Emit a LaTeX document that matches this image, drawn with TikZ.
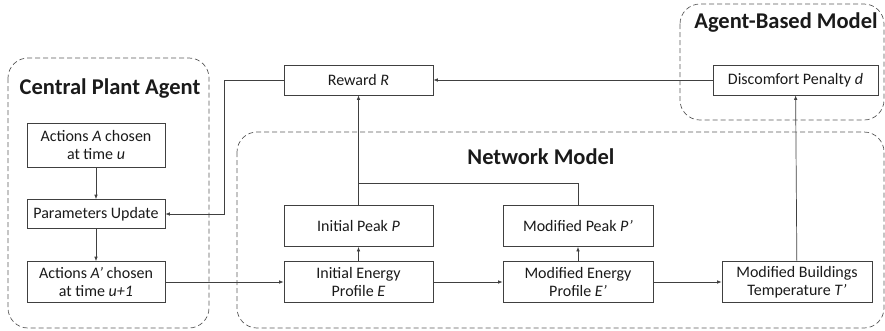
\documentclass[tikz,border=0pt]{standalone}
\usepackage{fontspec}
\setmainfont{Carlito}
\usetikzlibrary{arrows.meta}
\definecolor{boxline}{HTML}{404040}
\definecolor{dashline}{HTML}{5A5A5A}
\definecolor{txt}{HTML}{1A1A1A}
\tikzset{
  x=1pt, y=-1pt,
  blk/.style={draw=boxline, line width=0.7pt, rectangle, align=center, text=txt,
    font=\fontsize{16}{18.5}\selectfont, inner sep=0pt},
  grp/.style={draw=dashline, dashed, dash pattern=on 5pt off 3pt, line width=0.7pt, rounded corners=20pt},
  ttl/.style={font=\fontsize{22.5}{26}\selectfont\bfseries, text=txt, inner sep=0pt},
  conn/.style={draw=boxline, line width=0.7pt},
  arr/.style={conn, -{Latex[length=4.5pt,width=3.5pt]}}
}
\begin{document}
\begin{tikzpicture}
\useasboundingbox (0,0) rectangle (885,330);
% group boxes
\draw[grp] (8,58) rectangle (209,328);
\draw[grp] (237,132) rectangle (884,328);
\draw[grp] (680,4) rectangle (884,120);
% titles
\node[ttl] (tcp) at (110,89) {Central Plant Agent};
\node[ttl] (tnm) at (541,157) {Network Model};
\node[ttl] (tab) at (786,23) {Agent-Based Model};
% central plant
\node[blk, minimum width=138pt, minimum height=44pt] (aA) at (96,145) {Actions \textit{A} chosen\\at time \textit{u}};
\node[blk, minimum width=138pt, minimum height=29pt] (pu) at (96,214) {Parameters Update};
\node[blk, minimum width=138pt, minimum height=41pt] (aB) at (96,282) {Actions \textit{A’} chosen\\at time \textit{u+1}};
% reward
\node[blk, minimum width=149pt, minimum height=30pt] (rew) at (358.5,80) {Reward \textit{R}};
% network
\node[blk, minimum width=149pt, minimum height=41pt] (ip) at (358.5,226) {Initial Peak \textit{P}};
\node[blk, minimum width=150pt, minimum height=41pt] (mp) at (578,226) {Modified Peak \textit{P’}};
\node[blk, minimum width=149pt, minimum height=41pt] (ie) at (358.5,282) {Initial Energy\\Profile \textit{E}};
\node[blk, minimum width=150pt, minimum height=41pt] (me) at (578,282) {Modified Energy\\Profile \textit{E’}};
\node[blk, minimum width=150pt, minimum height=41pt] (mb) at (797,282) {Modified Buildings\\Temperature \textit{T’}};
% agent-based
\node[blk, minimum width=165pt, minimum height=30pt] (dp) at (795.5,80) {Discomfort Penalty \textit{d}};
% connectors
\draw[arr] (aA) -- (pu);
\draw[arr] (pu) -- (aB);
\coordinate (k) at (224,80);
\draw[arr] (rew.west) -- (k) |- (pu.east);
\draw[arr] (aB.east) -- (ie.west);
\draw[arr] (ie) -- (me);
\draw[arr] (me) -- (mb);
\draw[arr] (ie) -- (ip);
\draw[arr] (me) -- (mp);
\draw[arr] (ip) -- (rew);
\coordinate (j) at (358.5,183);
\draw[conn] (mp.north) |- (j);
\draw[arr] (mb) -- (dp);
\draw[arr] (dp) -- (rew);
\end{tikzpicture}
\end{document}
